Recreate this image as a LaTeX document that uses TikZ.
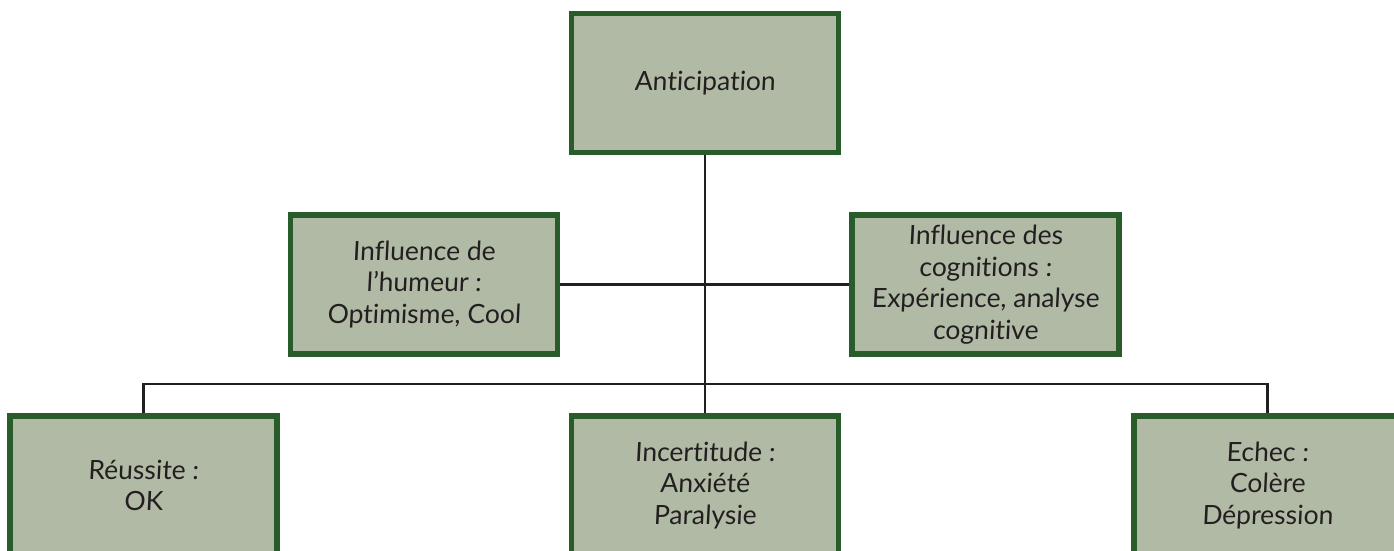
\documentclass[tikz,border=0pt]{standalone}
\usepackage{fontspec}
\setmainfont{Lato}[FakeSlant=0.05, Ligatures={NoCommon}]
\usetikzlibrary{positioning}
\definecolor{boxfill}{RGB}{176,186,165}
\definecolor{boxline}{RGB}{40,92,42}
\definecolor{inkgray}{RGB}{35,31,32}
\begin{document}
\begin{tikzpicture}[
  font=\fontsize{26.5}{31.5}\selectfont,
  emobox/.style={rectangle, draw=boxline, fill=boxfill, line width=5.5pt,
    minimum width=267pt, minimum height=139pt, align=center, text=inkgray},
  link/.style={draw=inkgray, line width=2.2pt}
]
\useasboundingbox (0,0) rectangle (1394pt,551pt);

\node[emobox] (anticip) at (705pt,468pt) {Anticipation};
\node[emobox, below=57pt of anticip, xshift=-281pt] (humeur)
  {Influence de\\l’humeur :\\Optimisme, Cool};
\node[emobox, below=57pt of anticip, xshift=280.5pt] (cognit)
  {Influence des\\cognitions :\\Expérience, analyse\\cognitive};

\node[emobox, below=258pt of anticip] (incert) {Incertitude :\\Anxiété\\Paralysie};
\node[emobox, left=289pt of incert] (succes) {Réussite :\\OK};
\node[emobox, right=290pt of incert] (echec) {Echec :\\Colère\\Dépression};

\draw[link] (anticip) -- (incert);
\draw[link] (humeur) -- (cognit);
\draw[link] (succes.north) -- ++(0,29pt) -| (echec.north);

\end{tikzpicture}
\end{document}
